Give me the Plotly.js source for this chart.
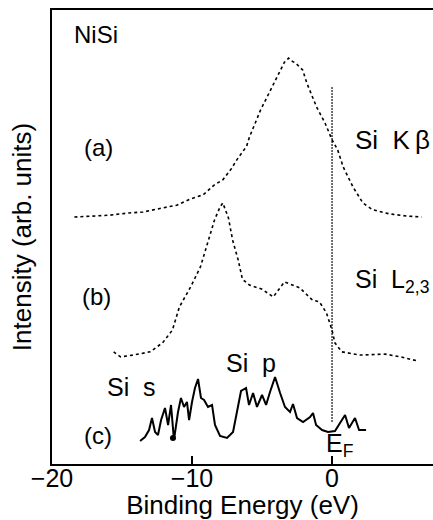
<!DOCTYPE html>
<html>
<head>
<meta charset="utf-8">
<script src="https://cdn.plot.ly/plotly-3.0.1.min.js"></script>
<style>html,body{margin:0;padding:0;background:#fff;}#chart{width:433px;height:520px;}</style>
</head>
<body>
<div id="chart"></div>
<script>
// (a) Si K-beta emission (dotted)
const kbX = [-18.4, -17.0, -15.9, -14.5, -13.5, -12.1, -11.1, -10.1, -9.2, -8.4, -7.8, -7.2, -6.8, -6.1, -5.9, -5.1, -4.4, -3.7, -3.4, -3.1, -2.9, -2.6, -2.1, -1.8, -1.1, -0.5, 0.0, 0.4, 0.8, 1.5, 2.2, 2.9, 4.1, 5.4, 6.4];
const kbY = [54.4, 54.6, 54.8, 55.3, 55.5, 56.4, 57.0, 58.4, 59.3, 61.5, 62.6, 65.0, 67.0, 70.0, 72.0, 78.0, 82.4, 86.8, 88.5, 89.4, 88.8, 88.3, 86.8, 83.9, 78.6, 75.1, 71.4, 69.2, 65.4, 61.0, 57.5, 56.0, 55.1, 54.6, 54.4];

// (b) Si L2,3 emission (dotted)
const lX = [-15.6, -15.1, -14.2, -13.0, -12.1, -11.4, -10.9, -10.1, -9.4, -8.9, -8.4, -8.0, -7.8, -7.4, -7.1, -6.7, -6.4, -5.9, -5.0, -4.2, -3.4, -2.3, -1.4, -0.9, -0.4, 0.0, 0.2, 0.7, 2.0, 3.8, 4.9, 6.1];
const lY = [24.7, 23.6, 24.0, 24.7, 26.7, 29.5, 34.6, 39.0, 43.4, 48.7, 53.7, 56.6, 57.5, 54.2, 49.3, 44.9, 40.7, 39.4, 38.5, 36.8, 40.1, 38.8, 36.1, 35.7, 33.3, 29.5, 26.7, 24.7, 24.0, 24.2, 23.6, 22.7];

// (c) calculated Si s+p DOS (solid)
const dosX = [-13.71, -13.36, -13.07, -12.86, -12.64, -12.43, -12.21, -11.93, -11.71, -11.5, -11.29, -11.0, -10.79, -10.57, -10.36, -10.21, -10.0, -9.79, -9.57, -9.36, -9.14, -8.86, -8.57, -8.36, -8.0, -7.5, -7.07, -6.79, -6.5, -6.14, -5.93, -5.64, -5.36, -5.0, -4.71, -4.43, -4.07, -3.71, -3.36, -3.0, -2.79, -2.5, -2.07, -1.57, -1.36, -1.14, -0.71, -0.29, 0.21, 0.57, 0.93, 1.21, 1.64, 1.93, 2.43];
const dosY = [5.07, 5.95, 7.49, 10.13, 7.05, 6.39, 9.69, 12.33, 8.59, 13.0, 5.29, 11.45, 14.54, 12.56, 13.66, 9.69, 13.66, 16.74, 18.72, 14.54, 14.10, 12.56, 13.0, 8.59, 6.17, 5.73, 7.05, 11.89, 16.08, 16.74, 13.0, 15.64, 12.56, 15.2, 13.0, 15.86, 19.16, 15.64, 12.56, 11.45, 13.22, 10.13, 9.25, 10.35, 11.23, 8.59, 7.49, 7.05, 7.27, 9.03, 10.79, 7.93, 10.13, 7.49, 7.49];
const blobX = [-11.36];
const blobY = [5.7];

// Fermi level marker
const fermiX = [0, 0];
const fermiY = [83.0, 9.0];

const tickVals = [-20, -10, 0];
const tickText = ['\u221220', '\u221210', '0'];

const FONT = "'Liberation Sans', Arial, Helvetica, sans-serif";

const traces = [
  {x: kbX, y: kbY, mode: 'lines', line: {color: '#000', width: 1.6, dash: 'dot'}, hoverinfo: 'skip'},
  {x: lX, y: lY, mode: 'lines', line: {color: '#000', width: 1.6, dash: 'dot'}, hoverinfo: 'skip'},
  {x: dosX, y: dosY, mode: 'lines', line: {color: '#000', width: 2}, hoverinfo: 'skip'},
  {x: blobX, y: blobY, mode: 'markers', marker: {color: '#000', size: 6}, hoverinfo: 'skip'},
  {x: fermiX, y: fermiY, mode: 'lines', line: {color: '#000', width: 1.5, dash: '1.5px,1.5px'}, hoverinfo: 'skip'}
];

function ann(text, x, y, xanchor, size) {
  return {text: text, x: x, y: y, xref: 'x', yref: 'y', xanchor: xanchor, yanchor: 'middle',
          showarrow: false, font: {family: FONT, size: size, color: '#000'}};
}

const layout = {
  width: 433, height: 520,
  margin: {l: 52, r: 0, t: 10, b: 56},
  paper_bgcolor: '#fff', plot_bgcolor: '#fff',
  showlegend: false,
  font: {family: FONT, color: '#000'},
  xaxis: {
    range: [-20, 7.21], showgrid: false, zeroline: false,
    showline: true, linewidth: 2, linecolor: '#000', mirror: true,
    ticks: 'inside', ticklen: 8, tickwidth: 2, tickcolor: '#000',
    tickvals: tickVals, ticktext: tickText,
    tickfont: {family: FONT, size: 25, color: '#000'},
    ticklabelstandoff: -9,
    title: {text: 'Binding Energy (eV)', font: {family: FONT, size: 26, color: '#000'}, standoff: 0},
    automargin: false, fixedrange: true
  },
  yaxis: {
    range: [0, 100], showgrid: false, zeroline: false,
    showline: true, linewidth: 2, linecolor: '#000',
    showticklabels: false, ticks: '',
    title: {text: 'Intensity (arb. units)', font: {family: FONT, size: 26, color: '#000'}, standoff: 11},
    automargin: false, fixedrange: true
  },
  annotations: [
    ann('NiSi', -18.57, 94.5, 'left', 24),
    ann('(a)', -17.86, 69.8, 'left', 24),
    ann('(b)', -18.0, 37.0, 'left', 24),
    ann('(c)', -17.86, 6.2, 'left', 24),
    ann('Si  K\u2009\u03b2', 1.5, 71.4, 'left', 26),
    ann('Si  L<sub>2,3</sub>', 1.5, 40.3, 'left', 25),
    ann('Si  s', -14.3, 17.0, 'center', 25),
    ann('Si  p', -5.8, 22.2, 'center', 25),
    ann('E<sub>F</sub>', 0.55, 4.2, 'center', 25)
  ]
};

Plotly.newPlot('chart', traces, layout, {staticPlot: true, displayModeBar: false});
</script>
</body>
</html>
